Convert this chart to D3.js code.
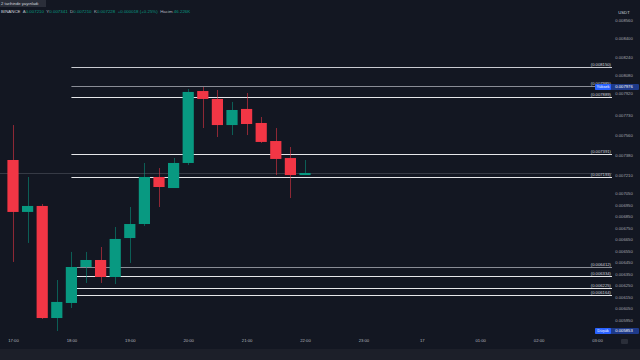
<!DOCTYPE html>
<html><head><meta charset="utf-8">
<script src="https://cdn.jsdelivr.net/npm/d3@7/dist/d3.min.js"></script>
<style>
html,body{margin:0;padding:0;background:#131722;overflow:hidden}
svg{display:block}
text{font-family:"Liberation Sans",Arial,sans-serif}
</style></head><body>
<svg id="c" width="640" height="360"></svg>
<script>
// ---- data ----
const times  = ["17:00","17:15","17:30","17:45","18:00","18:15","18:30","18:45","19:00","19:15","19:30","19:45","20:00","20:15","20:30","20:45","21:00","21:15","21:30","21:45","22:00"];
const opens  = [0.007341,0.006889,0.006941,0.005966,0.006097,0.006410,0.006471,0.006323,0.006662,0.006784,0.007193,0.007097,0.007315,0.007941,0.007872,0.007645,0.007785,0.007663,0.007506,0.007358,0.007210];
const highs  = [0.007645,0.007193,0.006958,0.006297,0.006541,0.006541,0.006584,0.006758,0.006932,0.007315,0.007271,0.007358,0.007959,0.007976,0.007950,0.007846,0.007924,0.007715,0.007619,0.007454,0.007341];
const lows   = [0.006454,0.006619,0.005958,0.005853,0.006053,0.006271,0.006271,0.006262,0.006445,0.006767,0.006932,0.007097,0.007297,0.007619,0.007541,0.007558,0.007558,0.007489,0.007210,0.007010,0.007210];
const closes = [0.006889,0.006941,0.005966,0.006106,0.006410,0.006471,0.006323,0.006654,0.006784,0.007193,0.007106,0.007315,0.007933,0.007872,0.007645,0.007776,0.007654,0.007498,0.007350,0.007210,0.007228];
const levels = [0.008150,0.007985,0.007889,0.007391,0.007193,0.006412,0.006334,0.006225,0.006164];
const levelStart = "18:00";
const priceTicks = [0.00856,0.00840,0.00824,0.00808,0.00792,0.00773,0.00756,0.00738,0.00721,0.00705,0.00695,0.00685,0.00675,0.00665,0.00655,0.00645,0.00635,0.00625,0.00615,0.00605,0.00595];
const timeTickLabels = ["17:00","18:00","19:00","20:00","21:00","22:00","23:00","17","01:00","02:00","03:00"];
const header = {symbol:"BINANCE", open:0.007210, high:0.007341, low:0.007210, close:0.007228, change:"+0.000018 (+0.25%)", volume:"46.226K"};
const published = "2 tarihinde yayınladı";
const currency = "USDT";

// ---- helpers ----
function toDate(s, dayOffset){ const [h,m]=s.split(":").map(Number); return new Date(2023,9,16+dayOffset,h,m||0); }
const candleDates = times.map(t=>toDate(t,0));
const tickDates = timeTickLabels.map(l=>{
  if(l==="17") return new Date(2023,9,17,0,0);
  const h=+l.split(":")[0]; return toDate(l, h<17?1:0);
});

const svg = d3.select("#c");
const W=640,H=360, plotR=612;
const x = d3.scaleTime().domain([new Date(2023,9,16,17,0), new Date(2023,9,17,3,0)]).range([13,597]);
const y = d3.scaleLinear().domain([0.0087329,0.0058184]).range([0,335]);
const fmt = d3.format(".6f");
const GREEN="#089981", RED="#f23645";

// background strips
svg.append("rect").attr("x",0).attr("y",0).attr("width",W).attr("height",H).attr("fill","#131722");
svg.append("rect").attr("x",0).attr("y",349).attr("width",W).attr("height",11).attr("fill","#1c1f29");

// current price line
const last = closes[closes.length-1];
svg.append("line").attr("x1",0).attr("x2",plotR).attr("y1",Math.round(y(last))+0.5).attr("y2",Math.round(y(last))+0.5)
  .attr("stroke","#363a45").attr("stroke-width",1);

// levels
const dimIdx = new Set([1,5]);
const lx0 = x(toDate(levelStart,0));
const lv = svg.append("g");
levels.forEach((v,i)=>{
  const yy = Math.round(y(v))+0.5;
  lv.append("line").attr("x1",lx0).attr("x2",plotR).attr("y1",yy).attr("y2",yy)
    .attr("stroke", dimIdx.has(i)?"#8a8d96":(i===0?"#c9cbd1":"#e6e7ea")).attr("stroke-width",1.2);
  lv.append("text").attr("x",plotR-1).attr("y",yy-2).attr("text-anchor","end")
    .attr("font-size",4.2).attr("fill","#d1d4dc").text("("+fmt(v)+")");
});

// candles
const cg = svg.append("g");
candleDates.forEach((d,i)=>{
  const o=opens[i],c=closes[i],h=highs[i],l=lows[i];
  const col = c>=o?GREEN:RED;
  const cx = Math.round(x(d))+0.5;
  cg.append("line").attr("x1",cx).attr("x2",cx).attr("y1",y(h)).attr("y2",y(l))
    .attr("stroke",col).attr("stroke-width",1).attr("stroke-opacity",0.55);
  const top=y(Math.max(o,c)), bot=y(Math.min(o,c));
  cg.append("rect").attr("x",x(d)-5.6).attr("width",11.2).attr("y",top).attr("height",Math.max(1.2,bot-top)).attr("fill",col);
});

// price axis
const ya = svg.append("g").attr("transform",`translate(${plotR+12},0)`)
  .call(d3.axisRight(y).tickValues(priceTicks).tickFormat(fmt).tickSize(0).tickPadding(0));
ya.select(".domain").remove();
ya.selectAll("text").attr("font-size",4.2).attr("fill","#a3a6af").attr("text-anchor","middle").attr("font-family","Liberation Sans, Arial, sans-serif");

// time axis
const xa = svg.append("g").attr("transform","translate(0,339)")
  .call(d3.axisBottom(x).tickValues(tickDates).tickFormat((d,i)=>timeTickLabels[i]).tickSize(0).tickPadding(0));
xa.select(".domain").remove();
xa.selectAll("text").attr("font-size",4.2).attr("fill","#b2b5be").attr("font-family","Liberation Sans, Arial, sans-serif");

// high / low markers
const hiV = d3.max(highs), loV = d3.min(lows);
function marker(v,label){
  const yy=y(v);
  svg.append("rect").attr("x",595).attr("y",yy-3).attr("width",44).attr("height",6).attr("rx",1).attr("fill","#1e3a8a");
  svg.append("rect").attr("x",595).attr("y",yy-3).attr("width",16).attr("height",6).attr("rx",1).attr("fill","#2962ff");
  svg.append("text").attr("x",603).attr("y",yy+1.4).attr("text-anchor","middle").attr("font-size",4).attr("fill","#ffffff").text(label);
  svg.append("text").attr("x",624).attr("y",yy+1.4).attr("text-anchor","middle").attr("font-size",4.2).attr("fill","#ffffff").text(fmt(v));
}
marker(hiV,"Yüksek");
marker(loV,"Düşük");

// currency
svg.append("text").attr("x",624).attr("y",14).attr("text-anchor","middle").attr("font-size",4.2).attr("fill","#d1d4dc").text(currency);

// header
svg.append("rect").attr("x",0).attr("y",0).attr("width",46).attr("height",7).attr("fill","#2a2e39");
svg.append("text").attr("x",1).attr("y",5).attr("font-size",4.2).attr("fill","#d1d4dc").text(published);
const ht = svg.append("text").attr("x",1).attr("y",13).attr("font-size",4.4).attr("fill","#d1d4dc").attr("xml:space","preserve");
ht.append("tspan").text(header.symbol+"  ");
[["A",header.open],["Y",header.high],["D",header.low],["K",header.close]].forEach(([k,v])=>{
  ht.append("tspan").attr("fill","#b2b5be").text(k);
  ht.append("tspan").attr("fill",GREEN).text(fmt(v)+"  ");
});
ht.append("tspan").attr("fill",GREEN).text(header.change+"  ");
ht.append("tspan").attr("fill","#b2b5be").text("Hacim ");
ht.append("tspan").attr("fill",GREEN).text(header.volume);
// corner icon
svg.append("rect").attr("x",621).attr("y",339).attr("width",7).attr("height",5).attr("rx",1).attr("fill","#2a2e39");
</script>
</body></html>
